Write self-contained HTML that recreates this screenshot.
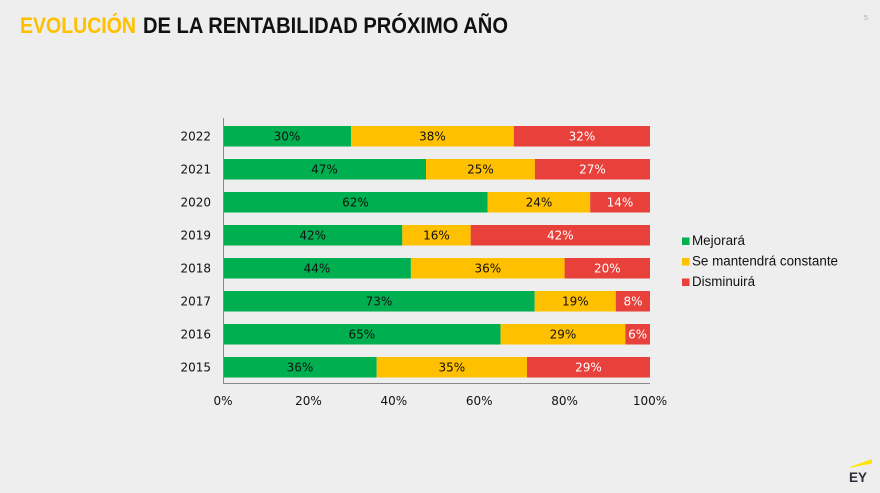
<!DOCTYPE html>
<html><head><meta charset="utf-8"><style>
html,body{margin:0;padding:0;background:#edeeed;}
svg{display:block;}
</style></head><body>
<svg width="880" height="493" viewBox="0 0 880 493" xmlns="http://www.w3.org/2000/svg">
<rect width="880" height="493" fill="#edeeed"/>
<text x="20" y="33" font-family="Liberation Sans, sans-serif" font-weight="bold" font-size="22" fill="#ffc000" textLength="116" lengthAdjust="spacingAndGlyphs">EVOLUCIÓN</text>
<text x="143" y="33" font-family="Liberation Sans, sans-serif" font-weight="bold" font-size="22" fill="#111" textLength="365" lengthAdjust="spacingAndGlyphs">DE LA RENTABILIDAD PRÓXIMO AÑO</text>
<text x="864" y="20" font-family="Liberation Sans, sans-serif" font-size="7" fill="#aaa">5</text>

<g font-family="DejaVu Sans, Verdana, sans-serif" font-size="12">
<!-- 2022 -->
<rect x="223" y="126" width="128.1" height="20.5" fill="#00af50"/>
<rect x="351.1" y="126" width="162.8" height="20.5" fill="#ffc000"/>
<rect x="513.9" y="126" width="136.1" height="20.5" fill="#e8403a"/>
<text x="287" y="140.5" text-anchor="middle" fill="#111">30%</text>
<text x="432.5" y="140.5" text-anchor="middle" fill="#111">38%</text>
<text x="582" y="140.5" text-anchor="middle" fill="#fff">32%</text>
<text x="211" y="140.5" text-anchor="end" fill="#111">2022</text>
<!-- 2021 -->
<rect x="223" y="159" width="203" height="20.5" fill="#00af50"/>
<rect x="426" y="159" width="108.9" height="20.5" fill="#ffc000"/>
<rect x="534.9" y="159" width="115.1" height="20.5" fill="#e8403a"/>
<text x="324.5" y="173.5" text-anchor="middle" fill="#111">47%</text>
<text x="480.5" y="173.5" text-anchor="middle" fill="#111">25%</text>
<text x="592.5" y="173.5" text-anchor="middle" fill="#fff">27%</text>
<text x="211" y="173.5" text-anchor="end" fill="#111">2021</text>
<!-- 2020 -->
<rect x="223" y="192" width="264.7" height="20.5" fill="#00af50"/>
<rect x="487.7" y="192" width="102.5" height="20.5" fill="#ffc000"/>
<rect x="590.2" y="192" width="59.8" height="20.5" fill="#e8403a"/>
<text x="355.4" y="206.5" text-anchor="middle" fill="#111">62%</text>
<text x="539" y="206.5" text-anchor="middle" fill="#111">24%</text>
<text x="620" y="206.5" text-anchor="middle" fill="#fff">14%</text>
<text x="211" y="206.5" text-anchor="end" fill="#111">2020</text>
<!-- 2019 -->
<rect x="223" y="225" width="179.3" height="20.5" fill="#00af50"/>
<rect x="402.3" y="225" width="68.4" height="20.5" fill="#ffc000"/>
<rect x="470.7" y="225" width="179.3" height="20.5" fill="#e8403a"/>
<text x="312.7" y="239.5" text-anchor="middle" fill="#111">42%</text>
<text x="436.5" y="239.5" text-anchor="middle" fill="#111">16%</text>
<text x="560.3" y="239.5" text-anchor="middle" fill="#fff">42%</text>
<text x="211" y="239.5" text-anchor="end" fill="#111">2019</text>
<!-- 2018 -->
<rect x="223" y="258" width="187.9" height="20.5" fill="#00af50"/>
<rect x="410.9" y="258" width="153.7" height="20.5" fill="#ffc000"/>
<rect x="564.6" y="258" width="85.4" height="20.5" fill="#e8403a"/>
<text x="317" y="272.5" text-anchor="middle" fill="#111">44%</text>
<text x="487.8" y="272.5" text-anchor="middle" fill="#111">36%</text>
<text x="607.3" y="272.5" text-anchor="middle" fill="#fff">20%</text>
<text x="211" y="272.5" text-anchor="end" fill="#111">2018</text>
<!-- 2017 -->
<rect x="223" y="291" width="311.7" height="20.5" fill="#00af50"/>
<rect x="534.7" y="291" width="81.1" height="20.5" fill="#ffc000"/>
<rect x="615.8" y="291" width="34.2" height="20.5" fill="#e8403a"/>
<text x="378.9" y="305.5" text-anchor="middle" fill="#111">73%</text>
<text x="575.3" y="305.5" text-anchor="middle" fill="#111">19%</text>
<text x="633" y="305.5" text-anchor="middle" fill="#fff">8%</text>
<text x="211" y="305.5" text-anchor="end" fill="#111">2017</text>
<!-- 2016 -->
<rect x="223" y="324" width="277.6" height="20.5" fill="#00af50"/>
<rect x="500.6" y="324" width="124.8" height="20.5" fill="#ffc000"/>
<rect x="625.4" y="324" width="24.6" height="20.5" fill="#e8403a"/>
<text x="361.8" y="338.5" text-anchor="middle" fill="#111">65%</text>
<text x="563" y="338.5" text-anchor="middle" fill="#111">29%</text>
<text x="637.7" y="338.5" text-anchor="middle" fill="#fff">6%</text>
<text x="211" y="338.5" text-anchor="end" fill="#111">2016</text>
<!-- 2015 -->
<rect x="223" y="357" width="153.7" height="20.5" fill="#00af50"/>
<rect x="376.7" y="357" width="150.3" height="20.5" fill="#ffc000"/>
<rect x="527" y="357" width="123" height="20.5" fill="#e8403a"/>
<text x="299.9" y="371.5" text-anchor="middle" fill="#111">36%</text>
<text x="451.8" y="371.5" text-anchor="middle" fill="#111">35%</text>
<text x="588.5" y="371.5" text-anchor="middle" fill="#fff">29%</text>
<text x="211" y="371.5" text-anchor="end" fill="#111">2015</text>

<line x1="223.5" y1="118" x2="223.5" y2="383.5" stroke="#8a8a8a" stroke-width="1"/>
<line x1="223" y1="383.5" x2="650" y2="383.5" stroke="#8a8a8a" stroke-width="1"/>

<text x="223" y="405" text-anchor="middle" fill="#111">0%</text>
<text x="308.4" y="405" text-anchor="middle" fill="#111">20%</text>
<text x="393.8" y="405" text-anchor="middle" fill="#111">40%</text>
<text x="479.2" y="405" text-anchor="middle" fill="#111">60%</text>
<text x="564.6" y="405" text-anchor="middle" fill="#111">80%</text>
<text x="650" y="405" text-anchor="middle" fill="#111">100%</text>
</g>

<g font-family="Liberation Sans, sans-serif" font-size="13.5" fill="#111">
<rect x="682" y="237.5" width="7.5" height="7.5" fill="#00af50"/>
<text x="692" y="245" textLength="53" lengthAdjust="spacingAndGlyphs">Mejorará</text>
<rect x="682" y="258" width="7.5" height="7.5" fill="#ffc000"/>
<text x="692" y="265.5" textLength="146" lengthAdjust="spacingAndGlyphs">Se mantendrá constante</text>
<rect x="682" y="278.5" width="7.5" height="7.5" fill="#e8403a"/>
<text x="692" y="286" textLength="63" lengthAdjust="spacingAndGlyphs">Disminuirá</text>
</g>

<polygon points="850,467 872,459 872,463.5 850,467.8" fill="#ffe600"/>
<text x="849" y="482" font-family="Liberation Sans, sans-serif" font-weight="bold" font-size="14" fill="#2e2e38" textLength="18" lengthAdjust="spacingAndGlyphs">EY</text>
</svg>
</body></html>
